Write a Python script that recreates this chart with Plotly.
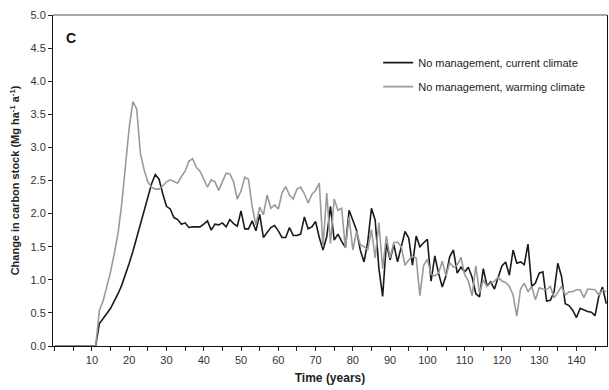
import plotly.graph_objects as go

years = list(range(0, 149))

current_climate = [0.0] * 12 + [
    0.34, 0.41, 0.49, 0.57, 0.67, 0.79, 0.92, 1.07, 1.25, 1.43,   # 12-21
    1.63, 1.83, 2.04, 2.25, 2.45, 2.59, 2.52, 2.30, 2.11, 2.07,   # 22-31
    1.94, 1.91, 1.84, 1.86, 1.79, 1.80, 1.80, 1.80, 1.84, 1.89,   # 32-41
    1.75, 1.84, 1.83, 1.86, 1.80, 1.91, 1.85, 1.81, 2.04, 1.77,   # 42-51
    1.77, 1.89, 1.74, 1.99, 1.64, 1.71, 1.79, 1.82, 1.74, 1.64,   # 52-61
    1.64, 1.79, 1.67, 1.67, 1.69, 1.95, 1.77, 1.80, 1.88, 1.64,   # 62-71
    1.45, 1.65, 2.11, 1.60, 1.69, 1.58, 1.49, 2.05, 1.90, 1.75,   # 72-81
    1.45, 1.27, 1.57, 2.08, 1.90, 1.17, 0.75, 1.55, 1.30, 1.53,   # 82-91
    1.27, 1.50, 1.73, 1.63, 1.22, 1.66, 1.50, 1.56, 1.61, 0.98,   # 92-101
    1.36, 1.10, 0.89, 1.06, 1.35, 1.45, 1.10, 1.19, 1.12, 1.19,   # 102-111
    1.04, 0.79, 0.74, 1.17, 0.91, 0.97, 0.86, 1.04, 1.21, 1.27,   # 112-121
    1.07, 1.45, 1.25, 1.27, 1.23, 1.54, 0.90, 0.95, 1.10, 1.12,   # 122-131
    0.68, 0.69, 0.82, 1.25, 1.05, 0.64, 0.61, 0.54, 0.43, 0.57,   # 132-141
    0.54, 0.52, 0.51, 0.46, 0.75, 0.89, 0.64,                     # 142-148
]

warming_climate = [0.0] * 12 + [
    0.54, 0.68, 0.90, 1.12, 1.40, 1.70, 2.15, 2.78, 3.30, 3.69,   # 12-21
    3.58, 2.91, 2.66, 2.48, 2.40, 2.37, 2.37, 2.42, 2.48, 2.51,   # 22-31
    2.48, 2.46, 2.56, 2.64, 2.79, 2.83, 2.70, 2.64, 2.52, 2.40,   # 32-41
    2.51, 2.48, 2.35, 2.47, 2.61, 2.60, 2.48, 2.22, 2.34, 2.55,   # 42-51
    2.52, 2.10, 1.83, 2.10, 1.98, 2.28, 2.08, 2.13, 2.07, 2.31,   # 52-61
    2.41, 2.28, 2.22, 2.37, 2.40, 2.30, 2.16, 2.29, 2.35, 2.46,   # 62-71
    1.50, 2.31, 1.55, 2.22, 2.05, 2.08, 1.48, 1.95, 1.45, 1.73,   # 72-81
    1.53, 1.50, 1.45, 1.76, 1.33, 1.86, 1.17, 1.66, 1.33, 1.56,   # 82-91
    1.57, 1.50, 1.22, 1.30, 1.36, 1.33, 0.76, 1.22, 1.31, 1.08,   # 92-101
    1.06, 1.10, 1.28, 1.06, 1.26, 1.19, 1.22, 1.34, 1.08, 0.98,   # 102-111
    0.76, 1.21, 0.80, 1.00, 0.90, 0.95, 0.98, 1.04, 0.98, 0.96,   # 112-121
    0.90, 0.77, 0.45, 0.86, 0.95, 0.82, 0.90, 0.70, 0.88, 0.86,   # 122-131
    0.85, 0.90, 0.73, 0.81, 0.90, 0.77, 0.82, 0.82, 0.85, 0.85,   # 132-141
    0.73, 0.86, 0.86, 0.85, 0.77, 0.85, 0.82,                     # 142-148
]

x_tick_vals = list(range(10, 150, 10))
x_tick_text = [str(v) for v in x_tick_vals]
y_tick_vals = [i * 0.5 for i in range(11)]
y_tick_text = [f"{v:.1f}" for v in y_tick_vals]

series_names = ["No management, current climate", "No management, warming climate"]
series_colors = ["#1a1a1a", "#9a9a9a"]

FONT = "Liberation Sans, Arial, sans-serif"

fig = go.Figure()
fig.add_trace(go.Scatter(x=years, y=current_climate, mode="lines", name=series_names[0],
                         line=dict(color=series_colors[0], width=1.6), legendgroup="a"))
fig.add_trace(go.Scatter(x=years, y=warming_climate, mode="lines", name=series_names[1],
                         line=dict(color=series_colors[1], width=1.6), legendgroup="b"))

fig.update_layout(
    width=609, height=390,
    margin=dict(l=53, r=2, t=15, b=44),
    paper_bgcolor="white", plot_bgcolor="white",
    font=dict(family=FONT, size=11, color="#333333"),
    showlegend=True,
    legend=dict(x=0.587, y=0.9, xanchor="left", yanchor="top",
                bgcolor="rgba(0,0,0,0)", font=dict(size=11, color="#222222"),
                tracegroupgap=5, traceorder="grouped"),
    xaxis=dict(range=[-0.45, 148.2], tickmode="array", tickvals=x_tick_vals, ticktext=x_tick_text,
               ticks="outside", ticklen=4, tickcolor="#222", showline=True, linecolor="#111",
               linewidth=1, showgrid=False, zeroline=False, layer="below traces",
               minor=dict(tick0=0, dtick=5, ticks="outside", ticklen=4, tickcolor="#222", showgrid=False),
               title=dict(text="<b>Time (years)</b>", font=dict(size=12, color="#222"), standoff=8)),
    yaxis=dict(range=[0, 5.0], tickmode="array", tickvals=y_tick_vals, ticktext=y_tick_text,
               ticks="outside", ticklen=4, tickcolor="#222", showline=True, linecolor="#111",
               linewidth=1, mirror=True, showgrid=False, zeroline=False, layer="below traces",
               title=dict(text="<b>Change in carbon stock (Mg ha<sup>-1</sup> a<sup>-1</sup>)</b>",
                          font=dict(size=11, color="#222"), standoff=8)),
    shapes=[dict(type="line", xref="paper", yref="paper", x0=0, x1=1, y0=1, y1=1,
                 line=dict(color="#8a8a8a", width=1.5))],
    annotations=[dict(text="<b>C</b>", xref="paper", yref="paper", x=0.033, y=0.93,
                      xanchor="center", yanchor="middle", showarrow=False,
                      font=dict(size=14, color="#111"))],
)

fig.write_html("out.html")
